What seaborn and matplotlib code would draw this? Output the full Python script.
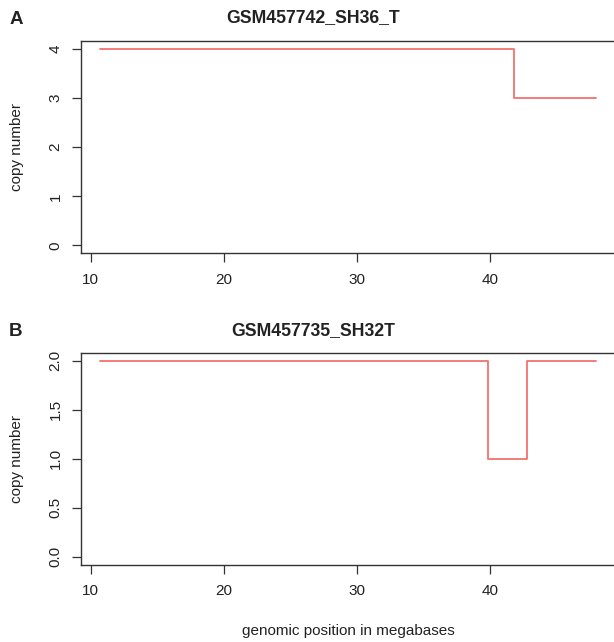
import numpy as np
import pandas as pd
import seaborn as sns
import matplotlib.pyplot as plt

# segment start positions (Mb) and copy number per segment, last point closes the line
pos_a = [10.72, 41.8, 48.0]
cn_a = [4, 3, 3]
pos_b = [10.72, 39.85, 42.83, 48.0]
cn_b = [2, 1, 2, 2]

titles = ['GSM457742_SH36_T', 'GSM457735_SH32T']
panel_tags = ['A', 'B']
xticks = [10, 20, 30, 40]
yticks_a = [0, 1, 2, 3, 4]
yticks_b = [0.0, 0.5, 1.0, 1.5, 2.0]

sns.set_style('ticks')
plt.rcParams['font.family'] = ['Liberation Sans', 'DejaVu Sans']

fig = plt.figure(figsize=(6.14, 6.42), dpi=100)
ax_a = fig.add_axes([0.1314, 0.6054, 0.8717, 0.3307])
ax_b = fig.add_axes([0.1314, 0.1199, 0.8717, 0.3307])

df_a = pd.DataFrame({'pos': pos_a, 'cn': cn_a})
df_b = pd.DataFrame({'pos': pos_b, 'cn': cn_b})

line_col = '#ef4f4a'
for ax, df, yt, ylim in [(ax_a, df_a, yticks_a, (-0.163, 4.163)),
                         (ax_b, df_b, yticks_b, (-0.083, 2.083))]:
    sns.lineplot(data=df, x='pos', y='cn', ax=ax, drawstyle='steps-post',
                 estimator=None, color=line_col, linewidth=1.3, alpha=0.8)
    ax.set_xlim(9.248, 49.49)
    ax.set_ylim(*ylim)
    ax.set_xticks(xticks)
    ax.set_yticks(yt)
    if ax is ax_a:
        ax.set_yticklabels([str(v) for v in yt])
    else:
        ax.set_yticklabels(['%.1f' % v for v in yt])
    ax.set_xlabel('')
    ax.set_ylabel('')
    for s in ax.spines.values():
        s.set_color('#333333')
        s.set_linewidth(1.0)
    ax.tick_params(direction='out', length=6.5, width=0.9, color='#333333',
                   labelsize=11, labelcolor='#222222')
    ax.tick_params(axis='x', pad=7.5)
    ax.tick_params(axis='y', pad=6.5)
    for lab in ax.get_yticklabels():
        lab.set_rotation(90)
        lab.set_va('center')

# titles, panel letters and axis labels placed as in the figure
fig.text(313 / 614, 1 - 18 / 642, titles[0], ha='center', va='center',
         fontsize=12.7, fontweight='bold', color='#222222')
fig.text(313 / 614, 1 - 330.5 / 642, titles[1], ha='center', va='center',
         fontsize=12.7, fontweight='bold', color='#222222')
fig.text(16 / 614, 1 - 20 / 642, panel_tags[0], ha='center', va='center',
         fontsize=13.5, fontweight='bold', color='#222222')
fig.text(16 / 614, 1 - 332 / 642, panel_tags[1], ha='center', va='center',
         fontsize=13.5, fontweight='bold', color='#222222')
fig.text(17 / 614, 1 - 147 / 642, 'copy number', rotation=90, ha='center',
         va='center', fontsize=11, color='#222222')
fig.text(17 / 614, 1 - 459 / 642, 'copy number', rotation=90, ha='center',
         va='center', fontsize=11, color='#222222')
fig.text(348 / 614, 1 - 631 / 642, 'genomic position in megabases',
         ha='center', va='center', fontsize=11, color='#222222')

plt.savefig('out.png', dpi=100)
